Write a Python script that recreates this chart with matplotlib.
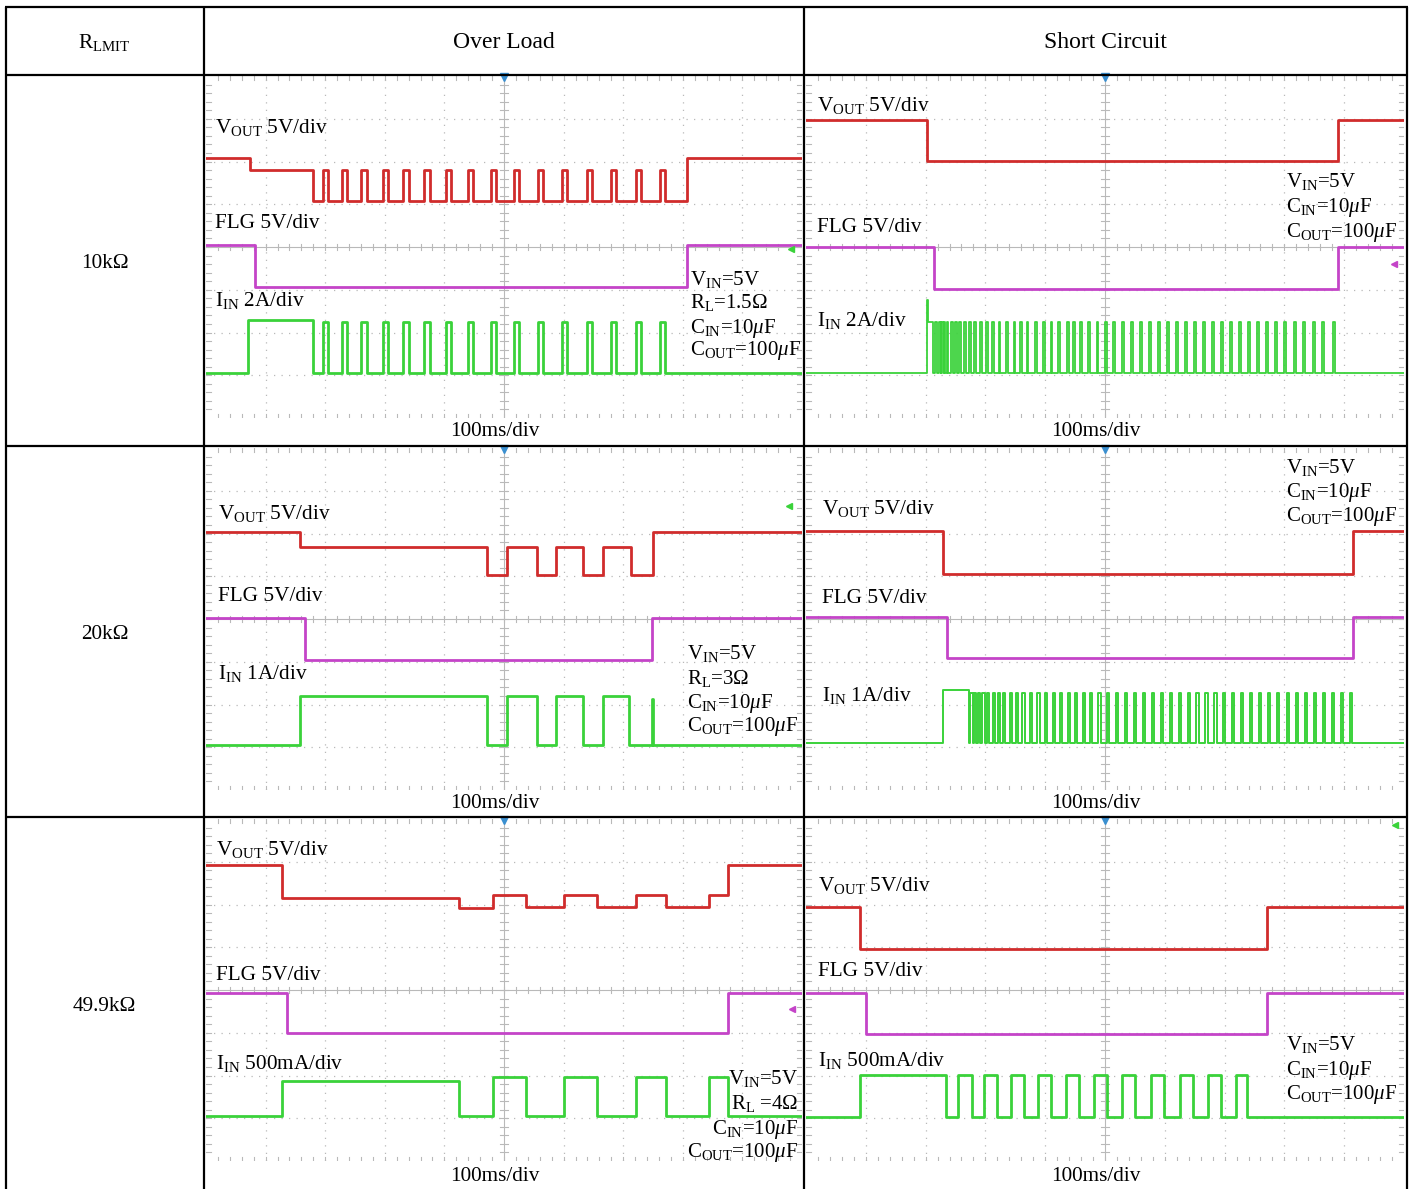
import matplotlib
matplotlib.use('Agg')
import matplotlib.pyplot as plt

plt.rcParams['font.family'] = ['Liberation Serif', 'DejaVu Serif']
plt.rcParams['mathtext.fontset'] = 'custom'
plt.rcParams['mathtext.rm'] = 'Liberation Serif'
plt.rcParams['mathtext.it'] = 'Liberation Serif:italic'
plt.rcParams['mathtext.bf'] = 'Liberation Serif:bold'

W, H = 1415, 1189

# ---------------- table text ----------------
col_titles = ['Over Load', 'Short Circuit']
row_labels = ['10kΩ', '20kΩ', '49.9kΩ']
time_div = '100ms/div'

# ---------------- waveform data (divisions: x 0..10, y 0..8) ----------------
# Panel A : 10k over load
A_vout_start, A_vout_x, A_vout_lv = 6.08, [0.74, 1.80, 8.07], [5.80, 5.08, 6.08]
A_pulse_on = [1.96, 2.28, 2.60, 2.97, 3.31, 3.66, 4.03, 4.40, 4.78, 5.17, 5.57, 5.97, 6.39, 6.80, 7.21, 7.62]
A_pulse_off = [2.05, 2.37, 2.70, 3.05, 3.41, 3.76, 4.11, 4.48, 4.87, 5.25, 5.65, 6.06, 6.48, 6.88, 7.30, 7.70]
A_vout_hi, A_vout_lo = 5.80, 5.08
A_flg_start, A_flg_x, A_flg_lv = 4.05, [0.82, 8.07], [3.06, 4.05]
A_iin_start, A_iin_x, A_iin_lv = 1.05, [0.70, 1.80], [2.29, 1.05]
A_iin_hi, A_iin_lo = 2.25, 1.05

# Panel B : 10k short circuit
B_vout_start, B_vout_x, B_vout_lv = 6.97, [2.02, 8.90], [6.01, 6.97]
B_flg_start, B_flg_x, B_flg_lv = 4.00, [2.14, 8.90], [3.02, 4.00]
B_iin_start, B_iin_x, B_iin_lv = 1.05, [2.03, 2.04, 2.12], [2.76, 2.25, 1.05]
B_pulse_on = [2.16, 2.19, 2.22, 2.26, 2.30, 2.35, 2.42, 2.49, 2.56, 2.65, 2.73, 2.81, 2.91, 3.01,
              3.11, 3.22, 3.34, 3.47, 3.58, 3.69, 3.83, 3.96, 4.09, 4.22, 4.36, 4.47, 4.58, 4.72,
              4.86, 5.00, 5.13, 5.28, 5.43, 5.59, 5.74, 5.89, 6.04, 6.19, 6.34, 6.49, 6.64, 6.79,
              6.94, 7.09, 7.24, 7.39, 7.54, 7.69, 7.84, 7.99, 8.16, 8.31, 8.48, 8.63, 8.81]
B_pulse_w = 0.03
B_iin_hi, B_iin_lo = 2.25, 1.05

# Panel C : 20k over load
C_vout_start = 6.04
C_vout_x = [1.58, 4.71, 5.05, 5.55, 5.87, 6.33, 6.66, 7.13, 7.50]
C_vout_lv = [5.68, 5.03, 5.68, 5.03, 5.68, 5.03, 5.68, 5.03, 6.04]
C_flg_start, C_flg_x, C_flg_lv = 4.02, [1.66, 7.48], [3.04, 4.02]
C_iin_start = 1.05
C_iin_x = [1.58, 4.71, 5.05, 5.55, 5.87, 6.33, 6.66, 7.09, 7.48, 7.50]
C_iin_lv = [2.20, 1.05, 2.20, 1.05, 2.20, 1.05, 2.20, 1.05, 2.12, 1.05]

# Panel D : 20k short circuit
D_vout_start, D_vout_x, D_vout_lv = 6.06, [2.29, 9.15], [5.05, 6.06]
D_flg_start, D_flg_x, D_flg_lv = 4.05, [2.36, 9.15], [3.09, 4.05]
D_iin_start, D_iin_x, D_iin_lv = 1.10, [2.29, 2.72], [2.34, 1.10]
D_pulse_on = [2.75, 2.81, 2.88, 2.95, 3.03, 3.12, 3.21, 3.30, 3.41, 3.51, 3.62, 3.75, 3.87, 4.00,
              4.13, 4.25, 4.38, 4.50, 4.63, 4.75, 4.89, 5.03, 5.18, 5.33, 5.48, 5.63, 5.78, 5.93,
              6.08, 6.23, 6.38, 6.53, 6.68, 6.83, 6.98, 7.13, 7.28, 7.43, 7.58, 7.73, 7.88, 8.04,
              8.19, 8.34, 8.49, 8.64, 8.79, 8.94, 9.10]
D_pulse_w = 0.035
D_iin_hi, D_iin_lo = 2.27, 1.10

# Panel E : 49.9k over load
E_vout_start = 6.92
E_vout_x = [1.28, 4.24, 4.82, 5.37, 6.01, 6.56, 7.21, 7.72, 8.44, 8.76]
E_vout_lv = [6.15, 5.92, 6.22, 5.94, 6.22, 5.94, 6.22, 5.94, 6.22, 6.92]
E_flg_start, E_flg_x, E_flg_lv = 3.93, [1.36, 8.76], [2.99, 3.93]
E_iin_start = 1.05
E_iin_x = [1.28, 4.24, 4.82, 5.37, 6.01, 6.56, 7.21, 7.72, 8.44, 8.76]
E_iin_lv = [1.87, 1.05, 1.96, 1.05, 1.96, 1.05, 1.96, 1.05, 1.96, 1.05]

# Panel F : 49.9k short circuit
F_vout_start, F_vout_x, F_vout_lv = 5.94, [0.90, 7.71], [4.96, 5.94]
F_flg_start, F_flg_x, F_flg_lv = 3.93, [1.00, 7.71], [2.97, 3.93]
F_iin_start, F_iin_x, F_iin_lv = 1.03, [0.90, 2.34], [2.01, 1.03]
F_pulse_on = [2.54, 2.98, 3.43, 3.88, 4.35, 4.82, 5.28, 5.77, 6.25, 6.72, 7.19]
F_pulse_off = [2.78, 3.19, 3.65, 4.10, 4.57, 5.03, 5.50, 5.99, 6.47, 6.94, 7.37]
F_iin_hi, F_iin_lo = 2.01, 1.03

RED, MAG, GRN = '#d02c2c', '#c444c8', '#3ad23a'


def steps(start, xs, lvs, on=(), off=(), hi=None, lo=None):
    ev = list(zip(xs, lvs)) + [(a, hi) for a in on] + [(b, lo) for b in off]
    ev.sort(key=lambda e: e[0])
    px, py, cur = [0.0], [start], start
    for x, lv in ev:
        px += [x, x]
        py += [cur, lv]
        cur = lv
    px.append(10.0)
    py.append(cur)
    return px, py


fig = plt.figure(figsize=(W / 100, H / 100), dpi=100)
fig.patch.set_facecolor('white')


def scope(x0, y0, x1, y1):
    ax = fig.add_axes([x0 / W, 1 - y1 / H, (x1 - x0) / W, (y1 - y0) / H])
    ax.set_xlim(0, 10)
    ax.set_ylim(0, 8)
    ax.axis('off')
    gc = '#b9b9b9'
    for i in range(1, 10):
        if i != 5:
            ax.plot([i, i], [0, 8], color=gc, lw=0.9, ls=(0, (1, 5)), zorder=1)
    for j in range(1, 8):
        if j != 4:
            ax.plot([0, 10], [j, j], color=gc, lw=0.9, ls=(0, (1, 5)), zorder=1)
    ax.plot([5, 5], [0, 8], color=gc, lw=0.8, zorder=1)
    ax.plot([0, 10], [4, 4], color=gc, lw=0.8, zorder=1)
    for k in range(1, 50):
        t = k * 0.2
        ax.plot([t, t], [3.93, 4.07], color=gc, lw=0.8, zorder=1)
        ax.plot([t, t], [0, 0.1], color=gc, lw=0.8, zorder=1)
        ax.plot([t, t], [7.9, 8], color=gc, lw=0.8, zorder=1)
    for k in range(1, 40):
        t = k * 0.2
        ax.plot([4.94, 5.06], [t, t], color=gc, lw=0.8, zorder=1)
        ax.plot([0, 0.08], [t, t], color=gc, lw=0.8, zorder=1)
        ax.plot([9.92, 10], [t, t], color=gc, lw=0.8, zorder=1)
    ax.plot([5], [7.97], marker='v', color='#3a8fd0', ms=6, clip_on=False, zorder=5)
    return ax


LW = 2.0
# Panel A
ax = scope(206, 76, 802, 418)
ax.plot(*steps(A_vout_start, A_vout_x, A_vout_lv, A_pulse_on, A_pulse_off, A_vout_hi, A_vout_lo), color=RED, lw=LW)
ax.plot(*steps(A_flg_start, A_flg_x, A_flg_lv), color=MAG, lw=LW)
ax.plot(*steps(A_iin_start, A_iin_x, A_iin_lv, A_pulse_on, A_pulse_off, A_iin_hi, A_iin_lo), color=GRN, lw=LW)
ax.plot([9.82], [3.96], marker='<', color=GRN, ms=4)

# Panel B
ax = scope(806, 76, 1404, 418)
ax.plot(*steps(B_vout_start, B_vout_x, B_vout_lv), color=RED, lw=LW)
ax.plot(*steps(B_flg_start, B_flg_x, B_flg_lv), color=MAG, lw=LW)
B_off = [a + B_pulse_w for a in B_pulse_on]
ax.plot(*steps(B_iin_start, B_iin_x, B_iin_lv, B_pulse_on, B_off, B_iin_hi, B_iin_lo), color=GRN, lw=1.3)
ax.plot([9.83], [3.60], marker='<', color=MAG, ms=4)

# Panel C
ax = scope(206, 448, 802, 790)
ax.plot(*steps(C_vout_start, C_vout_x, C_vout_lv), color=RED, lw=LW)
ax.plot(*steps(C_flg_start, C_flg_x, C_flg_lv), color=MAG, lw=LW)
ax.plot(*steps(C_iin_start, C_iin_x, C_iin_lv), color=GRN, lw=LW)
ax.plot([9.78], [6.65], marker='<', color=GRN, ms=4)

# Panel D
ax = scope(806, 448, 1404, 790)
ax.plot(*steps(D_vout_start, D_vout_x, D_vout_lv), color=RED, lw=LW)
ax.plot(*steps(D_flg_start, D_flg_x, D_flg_lv), color=MAG, lw=LW)
D_off = [a + D_pulse_w for a in D_pulse_on]
ax.plot(*steps(D_iin_start, D_iin_x, D_iin_lv, D_pulse_on, D_off, D_iin_hi, D_iin_lo), color=GRN, lw=1.4)

# Panel E
ax = scope(206, 819, 802, 1161)
ax.plot(*steps(E_vout_start, E_vout_x, E_vout_lv), color=RED, lw=LW)
ax.plot(*steps(E_flg_start, E_flg_x, E_flg_lv), color=MAG, lw=LW)
ax.plot(*steps(E_iin_start, E_iin_x, E_iin_lv), color=GRN, lw=LW)
ax.plot([9.83], [3.55], marker='<', color=MAG, ms=4)

# Panel F
ax = scope(806, 819, 1404, 1161)
ax.plot(*steps(F_vout_start, F_vout_x, F_vout_lv), color=RED, lw=LW)
ax.plot(*steps(F_flg_start, F_flg_x, F_flg_lv), color=MAG, lw=LW)
ax.plot(*steps(F_iin_start, F_iin_x, F_iin_lv, F_pulse_on, F_pulse_off, F_iin_hi, F_iin_lo), color=GRN, lw=LW)
ax.plot([9.85], [7.85], marker='<', color=GRN, ms=4)

# ---------------- overlay: table lines & text ----------------
ov = fig.add_axes([0, 0, 1, 1], zorder=10)
ov.set_xlim(0, W)
ov.set_ylim(H, 0)
ov.axis('off')
ov.patch.set_alpha(0)

k = dict(color='black', lw=1.6, solid_capstyle='butt')
ov.plot([5, 1408], [7, 7], **k)
ov.plot([5, 1408], [75, 75], **k)
ov.plot([5, 1408], [446, 446], **k)
ov.plot([5, 1408], [817, 817], **k)
for xv in (5.5, 204, 804, 1407):
    ov.plot([xv, xv], [7, H], **k)

FS = 15.3
ov.text(104.5, 48, r'R$_{\rm LMIT}$', fontsize=FS, ha='center', va='baseline')
ov.text(504, 48, col_titles[0], fontsize=17, ha='center', va='baseline')
ov.text(1105, 48, col_titles[1], fontsize=17, ha='center', va='baseline')
for lab, yb in zip(row_labels, (268, 639, 1011)):
    ov.text(104.5, yb, lab, fontsize=FS, ha='center', va='baseline')
for yb in (436, 808, 1181):
    ov.text(495, yb, time_div, fontsize=FS, ha='center', va='baseline')
    ov.text(1096, yb, time_div, fontsize=FS, ha='center', va='baseline')

VOUT = r'V$_{\rm OUT}$ 5V/div'
FLG = 'FLG 5V/div'
VIN = r'V$_{\rm IN}$=5V'
CIN = r'C$_{\rm IN}$=10$\mu$F'
COUT = r'C$_{\rm OUT}$=100$\mu$F'


def t(x, y, s, ha='left', fs=FS):
    ov.text(x, y, s, fontsize=fs, ha=ha, va='baseline')


# Panel A
t(215, 133, VOUT); t(215, 228, FLG); t(215, 306, r'I$_{\rm IN}$ 2A/div')
for s, yb in zip([VIN, r'R$_{\rm L}$=1.5Ω', CIN, COUT], [285, 308, 333, 355]):
    t(690, yb, s, fs=15)
# Panel B
t(817, 111, VOUT); t(817, 232, FLG); t(817, 326, r'I$_{\rm IN}$ 2A/div')
for s, yb in zip([VIN, CIN, COUT], [187, 212, 237]):
    t(1286, yb, s, fs=15)
# Panel C
t(218, 519, VOUT); t(218, 601, FLG); t(218, 679, r'I$_{\rm IN}$ 1A/div')
for s, yb in zip([VIN, r'R$_{\rm L}$=3Ω', CIN, COUT], [659, 684, 708, 731]):
    t(687, yb, s, fs=15)
# Panel D
t(822, 514, VOUT); t(822, 603, FLG); t(822, 701, r'I$_{\rm IN}$ 1A/div')
for s, yb in zip([VIN, CIN, COUT], [473, 497, 521]):
    t(1286, yb, s, fs=15)
# Panel E
t(216, 855, VOUT); t(216, 980, FLG); t(216, 1069, r'I$_{\rm IN}$ 500mA/div')
for s, yb in zip([VIN, r'R$_{\rm L}$ =4Ω', CIN, COUT], [1084, 1109, 1134, 1157]):
    t(798, yb, s, ha='right', fs=15)
# Panel F
t(818, 891, VOUT); t(818, 976, FLG); t(818, 1066, r'I$_{\rm IN}$ 500mA/div')
for s, yb in zip([VIN, CIN, COUT], [1050, 1075, 1099]):
    t(1286, yb, s, fs=15)

fig.savefig('out.png', dpi=100)
